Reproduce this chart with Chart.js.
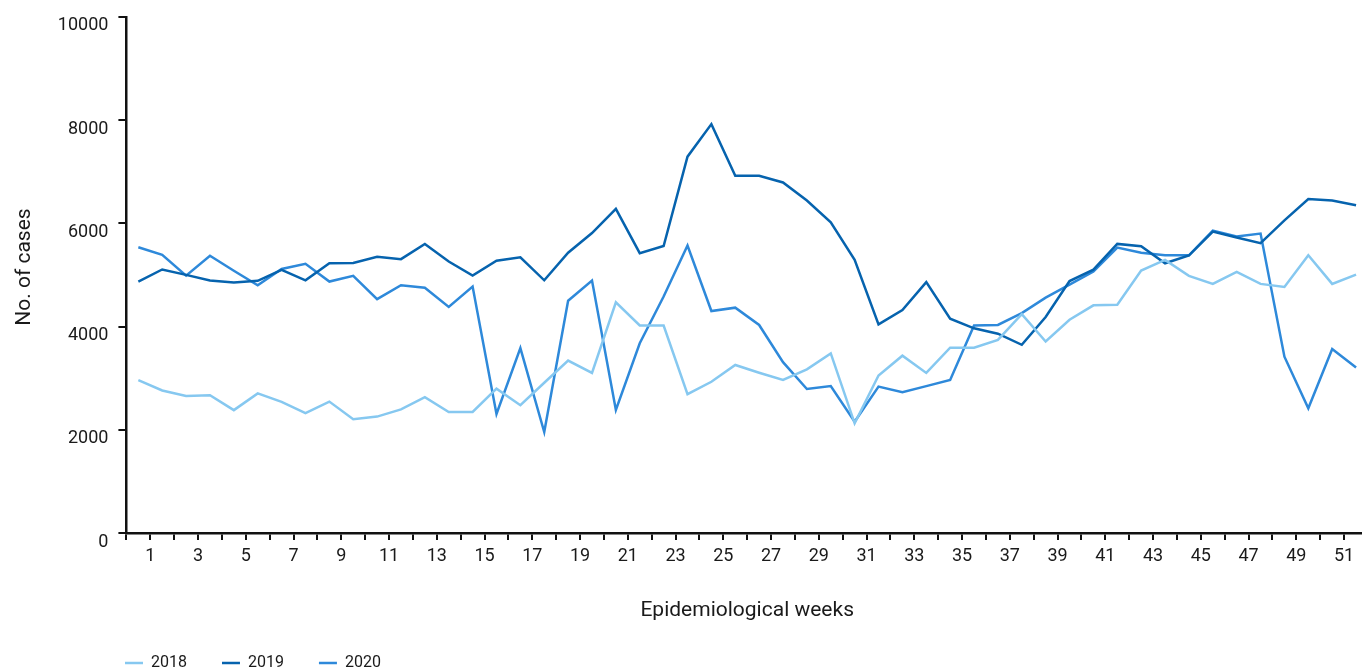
<!DOCTYPE html>
<html>
<head>
<meta charset="utf-8">
<script src="https://cdn.jsdelivr.net/npm/chart.js@4.4.1/dist/chart.umd.min.js"></script>
<style>
  html, body { margin: 0; padding: 0; background: #ffffff; overflow: hidden; }
  #wrap { width: 1380px; height: 681px; }
</style>
</head>
<body>
<div id="wrap"><canvas id="c" width="1380" height="681"></canvas></div>
<script>
const weeks = ['1','2','3','4','5','6','7','8','9','10','11','12','13','14','15','16','17','18','19','20',
  '21','22','23','24','25','26','27','28','29','30','31','32','33','34','35','36','37','38','39','40',
  '41','42','43','44','45','46','47','48','49','50','51','52'];

const cases2018 = [2960, 2760, 2655, 2670, 2380, 2705, 2540, 2320, 2545, 2205, 2255, 2395, 2630, 2345, 2345, 2795,
  2475, 2910, 3340, 3100, 4470, 4020, 4020, 2690, 2930, 3255, 3105, 2965, 3170, 3480, 2125, 3050, 3435, 3100,
  3590, 3590, 3740, 4240, 3710, 4130, 4410, 4420, 5085, 5290, 4980, 4825, 5060, 4825, 4765, 5380, 4825, 5005];

const cases2019 = [4870, 5105, 5000, 4890, 4850, 4885, 5095, 4895, 5225, 5230, 5350, 5305, 5600, 5260, 4985, 5275,
  5340, 4895, 5430, 5810, 6280, 5420, 5560, 7290, 7920, 6920, 6920, 6790, 6440, 6020, 5290, 4040, 4320, 4860,
  4150, 3965, 3860, 3645, 4185, 4880, 5100, 5600, 5555, 5225, 5375, 5840, 5725, 5615, 6055, 6470, 6440, 6350];

const cases2020 = [5535, 5390, 4985, 5370, 5080, 4800, 5115, 5215, 4870, 4980, 4530, 4800, 4750, 4380, 4775, 2305,
  3580, 1955, 4500, 4890, 2385, 3675, 4580, 5570, 4300, 4365, 4030, 3310, 2790, 2845, 2155, 2835, 2725, 2845,
  2965, 4020, 4030, 4260, 4560, 4810, 5065, 5530, 5430, 5380, 5380, 5855, 5745, 5800, 3415, 2415, 3565, 3205];

const yTicks = [0, 2000, 4000, 6000, 8000, 10000];

const ink = '#1a1a1a';
Chart.defaults.font.family = 'Roboto, "Liberation Sans", sans-serif';
Chart.defaults.color = ink;

const legendShift = {
  id: 'legendShift',
  afterLayout(chart) {
    const l = chart.legend;
    if (!l) return;
    const pad = l.options.labels.padding;
    const fs = l.options.labels.font.size;
    const dx = 125 - (l.left + pad);
    const dy = 663 - (l.top + pad + fs / 2);
    l.left += dx; l.right += dx;
    l.top += dy; l.bottom += dy;
  }
};

function line(label, data, color) {
  return {
    label, data,
    borderColor: color, backgroundColor: color,
    borderWidth: 2.5, pointRadius: 0, pointHoverRadius: 0,
    tension: 0, fill: false
  };
}

new Chart(document.getElementById('c'), {
  type: 'line',
  data: {
    labels: weeks,
    datasets: [
      line('2018', cases2018, '#86C8F0'),
      line('2019', cases2019, '#0663AE'),
      line('2020', cases2020, '#2E89DA')
    ]
  },
  options: {
    responsive: false,
    devicePixelRatio: 1,
    animation: false,
    layout: { padding: { top: 0, right: 12, left: 0, bottom: 0 } },
    plugins: {
      legend: {
        position: 'bottom',
        align: 'start',
        labels: {
          usePointStyle: true,
          pointStyle: 'line',
          pointStyleWidth: 18,
          boxWidth: 18,
          padding: 35,
          font: { size: 16 },
          color: ink
        }
      },
      tooltip: { enabled: false }
    },
    scales: {
      x: {
        type: 'category',
        offset: true,
        grid: { offset: true, drawOnChartArea: false, drawTicks: true, tickLength: 7, color: '#111', lineWidth: 2 },
        border: { display: true, color: '#111', width: 2.5 },
        ticks: {
          autoSkip: false, maxRotation: 0, minRotation: 0,
          labelOffset: 11.9, padding: 6,
          font: { size: 18 }, color: ink,
          callback: (v, i) => (i % 2 === 0 ? weeks[i] : '')
        },
        title: { display: true, text: 'Epidemiological weeks', font: { size: 21 }, color: ink, padding: { top: 0, bottom: -3 } },
        afterFit(s) { s.height = 87; }
      },
      y: {
        min: 0, max: 10000,
        afterBuildTicks(s) { s.ticks = yTicks.map(v => ({ value: v })); },
        grid: { drawOnChartArea: false, drawTicks: true, tickLength: 8, color: '#111', lineWidth: 2 },
        border: { display: true, color: '#111', width: 2.5 },
        ticks: { padding: 10, labelOffset: 9, font: { size: 18, lineHeight: 0.75 }, color: ink, callback: (v) => String(v) },
        title: { display: true, text: '   No. of cases', font: { size: 21 }, color: ink, padding: { top: 12, bottom: 0 } },
        afterFit(s) { s.width = 126.4; }
      }
    }
  },
  plugins: [legendShift]
});
</script>
</body>
</html>
